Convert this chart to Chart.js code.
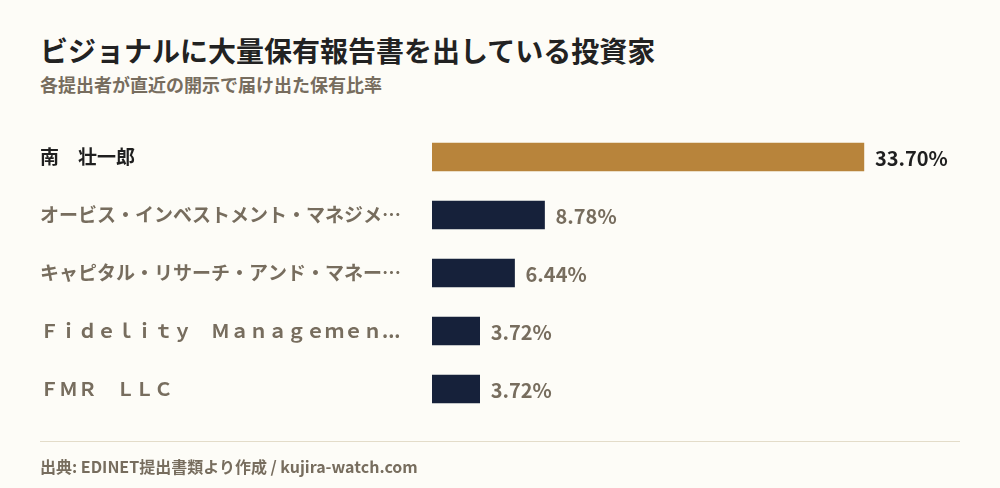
<!DOCTYPE html>
<html lang="ja">
<head>
<meta charset="utf-8">
<script src="https://cdn.jsdelivr.net/npm/chart.js@4/dist/chart.umd.min.js"></script>
<style>
  html, body { margin: 0; padding: 0; background: #fdfcf7; }
  body { width: 1000px; height: 488px; position: relative; overflow: hidden; font-family: "Noto Sans CJK JP", sans-serif; }
  .title { position: absolute; left: 40px; top: 31px; font-size: 28px; font-weight: 700; color: #222222; line-height: 38px; white-space: nowrap; }
  .subtitle { position: absolute; left: 40px; top: 72px; font-size: 18px; font-weight: 700; color: #776d5e; line-height: 24px; white-space: nowrap; }
  .rule { position: absolute; left: 40px; top: 441px; width: 920px; height: 1px; background: #e3dcc9; }
  .footer { position: absolute; left: 40px; top: 454px; font-size: 16px; font-weight: 700; color: #776d5e; line-height: 24px; white-space: nowrap; }
  #chartWrap { position: absolute; left: 0; top: 0; width: 1000px; height: 488px; }
</style>
</head>
<body>
<div class="title">ビジョナルに大量保有報告書を出している投資家</div>
<div class="subtitle">各提出者が直近の開示で届け出た保有比率</div>
<div id="chartWrap"><canvas id="holdersChart" width="1000" height="488"></canvas></div>
<div class="rule"></div>
<div class="footer">出典: EDINET提出書類より作成 / kujira-watch.com</div>

<script>
const holderNames = [
  '南　壮一郎',
  'オービス・インベストメント・マネジメ…',
  'キャピタル・リサーチ・アンド・マネー…',
  'Ｆｉｄｅｌｉｔｙ　Ｍａｎａｇｅｍｅｎ...',
  'ＦＭＲ　ＬＬＣ'
];
const holdingRatios = [33.70, 8.78, 6.44, 3.72, 3.72];

const GOLD = '#b8843b';
const NAVY = '#16213a';
const DARK = '#1f1f1f';
const MUTED = '#776d5e';
const FONT = '"Noto Sans CJK JP", sans-serif';

// value labels at the end of each bar
const valueLabels = {
  id: 'valueLabels',
  afterDatasetsDraw(chart) {
    const { ctx } = chart;
    const meta = chart.getDatasetMeta(0);
    ctx.save();
    ctx.textBaseline = 'middle';
    ctx.textAlign = 'left';
    meta.data.forEach((bar, i) => {
      ctx.font = `700 20px ${FONT}`;
      ctx.fillStyle = i === 0 ? DARK : MUTED;
      ctx.fillText(holdingRatios[i].toFixed(2) + '%', bar.x + 11, bar.y + 1);
    });
    ctx.restore();
  }
};

new Chart(document.getElementById('holdersChart'), {
  type: 'bar',
  data: {
    labels: holderNames,
    datasets: [{
      data: holdingRatios,
      backgroundColor: holdingRatios.map((_, i) => i === 0 ? GOLD : NAVY),
      borderWidth: 0,
      barThickness: 28
    }]
  },
  options: {
    indexAxis: 'y',
    responsive: false,
    animation: false,
    layout: { padding: { left: 40, right: 40, top: 128, bottom: 70 } },
    plugins: {
      legend: { display: false },
      tooltip: { enabled: false }
    },
    scales: {
      x: { display: false, min: 0, max: 41.2, grid: { display: false } },
      y: {
        grid: { display: false },
        border: { display: false },
        afterFit(axis) { axis.width = 392; },
        ticks: {
          crossAlign: 'far',
          padding: 0,
          autoSkip: false,
          color: (c) => c.index === 0 ? DARK : MUTED,
          font: { family: FONT, size: 19, weight: '700' }
        }
      }
    }
  },
  plugins: [valueLabels]
});
</script>
</body>
</html>
